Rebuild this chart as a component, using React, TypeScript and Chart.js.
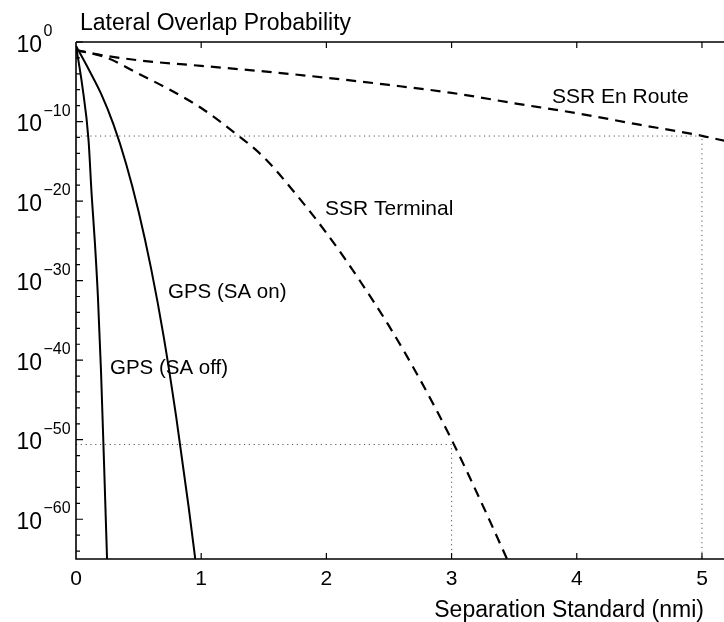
import React, { useEffect, useRef } from "react";
import { Chart, registerables } from "chart.js";

Chart.register(...registerables);

// ---- Data ----
const enRouteX = [0, 0.15, 0.5, 1, 1.5, 2, 2.5, 3, 3.5, 4, 4.5, 5, 5.2];
const enRouteY = [1e-1, 3.2e-2, 5.0e-3, 1e-3, 2.0e-4, 3.2e-5, 4.0e-6, 4.0e-7, 2.0e-8, 1.1e-9, 4.0e-11, 1.6e-12, 3.2e-13];

const terminalX = [0, 0.25, 0.5, 0.75, 1.0, 1.25, 1.5, 1.75, 2.0, 2.25, 2.5, 2.75, 3.0, 3.25, 3.5];
const terminalY = [1e-1, 1e-2, 1e-4, 1e-6, 5.0e-9, 6.3e-12, 3.2e-15, 1e-19, 1e-24, 2.5e-30, 2.0e-36, 3.2e-43, 1e-50, 5.0e-59, 1e-67];

const saOnX = [0, 0.1, 0.2, 0.3, 0.4, 0.5, 0.6, 0.7, 0.8, 0.9, 0.97];
const saOnY = [3.2e-1, 4.0e-4, 3.2e-7, 4.0e-11, 5.0e-16, 5.0e-22, 3.2e-29, 1e-37, 7.9e-48, 3.2e-59, 6.3e-68];

const saOffX = [0, 0.05, 0.1, 0.125, 0.15, 0.175, 0.2, 0.225, 0.25];
const saOffY = [3.2e-1, 3.2e-6, 5.0e-13, 6.3e-20, 1e-25, 1e-32, 3.2e-42, 3.2e-54, 1e-66];

const ref1X = [0, 5, 5];
const ref1Y = [1.5e-12, 1.5e-12, 1e-65];
const ref2X = [0, 3, 3];
const ref2Y = [2.5e-51, 2.5e-51, 1e-65];

const xTicks = [0, 1, 2, 3, 4, 5];
const xTickLabels = ["0", "1", "2", "3", "4", "5"];
const yMajorTicks = [1, 1e-10, 1e-20, 1e-30, 1e-40, 1e-50, 1e-60];
const yMajorExpLabels = ["0", "−10", "−20", "−30", "−40", "−50", "−60"];
const yMinorTicks = [
  1e-2, 1e-4, 1e-6, 1e-8, 1e-12, 1e-14, 1e-16, 1e-18, 1e-22, 1e-24, 1e-26, 1e-28,
  1e-32, 1e-34, 1e-36, 1e-38, 1e-42, 1e-44, 1e-46, 1e-48, 1e-52, 1e-54, 1e-56, 1e-58,
  1e-62, 1e-64,
];

const TITLE = "Lateral Overlap Probability";
const XLABEL = "Separation Standard (nmi)";
const curveLabels = [
  { text: "SSR En Route", x: 552, y: 103, size: 21 },
  { text: "SSR Terminal", x: 325, y: 215, size: 21 },
  { text: "GPS (SA on)", x: 168, y: 298, size: 20.5 },
  { text: "GPS (SA off)", x: 110, y: 374, size: 20.5 },
];

const FONT = "'Liberation Sans', Arial, Helvetica, sans-serif";

const pts = (xs: number[], ys: number[]) => xs.map((x, i) => ({ x, y: ys[i] }));

const axesPlugin = {
  id: "matlabAxes",
  afterDraw(chart: any) {
    const { ctx, chartArea: a, scales } = chart;
    const xs = scales.x;
    const ys = scales.y;
    ctx.save();
    ctx.strokeStyle = "#000";
    ctx.lineWidth = 1.6;
    ctx.beginPath();
    ctx.moveTo(a.left, a.top);
    ctx.lineTo(a.right, a.top);
    ctx.moveTo(a.left, a.top);
    ctx.lineTo(a.left, a.bottom);
    ctx.lineTo(a.right, a.bottom);
    ctx.stroke();

    ctx.lineWidth = 1.2;
    ctx.beginPath();
    xTicks.forEach((t) => {
      const px = xs.getPixelForValue(t);
      if (t !== 0) {
        ctx.moveTo(px, a.bottom);
        ctx.lineTo(px, a.bottom - 6);
        ctx.moveTo(px, a.top);
        ctx.lineTo(px, a.top + 6);
      }
    });
    yMajorTicks.forEach((t) => {
      const py = ys.getPixelForValue(t);
      ctx.moveTo(a.left, py);
      ctx.lineTo(a.left + 7, py);
    });
    yMinorTicks.forEach((t) => {
      const py = ys.getPixelForValue(t);
      ctx.moveTo(a.left, py);
      ctx.lineTo(a.left + 4, py);
    });
    ctx.stroke();

    ctx.fillStyle = "#000";
    // x tick labels
    ctx.font = `21px ${FONT}`;
    ctx.textAlign = "center";
    ctx.textBaseline = "alphabetic";
    xTicks.forEach((t, i) => {
      ctx.fillText(xTickLabels[i], xs.getPixelForValue(t), a.bottom + 26);
    });
    // y tick labels 10^e
    yMajorTicks.forEach((t, i) => {
      const py = ys.getPixelForValue(t);
      ctx.font = `23px ${FONT}`;
      ctx.textAlign = "right";
      ctx.fillText("10", 42, py + 9.5);
      ctx.font = `16px ${FONT}`;
      ctx.textAlign = "left";
      ctx.fillText(yMajorExpLabels[i], 43.5, py - 6);
    });
    // title & x label
    ctx.font = `23px ${FONT}`;
    ctx.textAlign = "left";
    ctx.fillText(TITLE, 80, 30);
    ctx.textAlign = "right";
    ctx.fillText(XLABEL, 704, 617);
    // curve labels
    ctx.textAlign = "left";
    curveLabels.forEach((l) => {
      ctx.font = `${l.size}px ${FONT}`;
      ctx.fillText(l.text, l.x, l.y);
    });
    ctx.restore();
  },
};

export default function App() {
  const ref = useRef<HTMLCanvasElement | null>(null);
  useEffect(() => {
    if (!ref.current) return;
    const dotted = {
      borderColor: "#555",
      borderWidth: 1,
      borderDash: [1.2, 3.6],
      pointRadius: 0,
      tension: 0,
    };
    const chart = new Chart(ref.current, {
      type: "line",
      data: {
        datasets: [
          { label: "ref1", data: pts(ref1X, ref1Y), ...dotted },
          { label: "ref2", data: pts(ref2X, ref2Y), ...dotted },
          {
            label: "SSR En Route",
            data: pts(enRouteX, enRouteY),
            borderColor: "#000",
            borderWidth: 2.2,
            borderDash: [10, 7],
            pointRadius: 0,
            cubicInterpolationMode: "monotone",
          },
          {
            label: "SSR Terminal",
            data: pts(terminalX, terminalY),
            borderColor: "#000",
            borderWidth: 2.2,
            borderDash: [10, 7],
            pointRadius: 0,
            cubicInterpolationMode: "monotone",
          },
          {
            label: "GPS (SA on)",
            data: pts(saOnX, saOnY),
            borderColor: "#000",
            borderWidth: 2,
            pointRadius: 0,
            cubicInterpolationMode: "monotone",
          },
          {
            label: "GPS (SA off)",
            data: pts(saOffX, saOffY),
            borderColor: "#000",
            borderWidth: 2,
            pointRadius: 0,
            cubicInterpolationMode: "monotone",
          },
        ],
      } as any,
      options: {
        responsive: false,
        animation: false,
        events: [],
        layout: { padding: { left: 76, top: 42, right: 0, bottom: 63 } },
        plugins: { legend: { display: false }, tooltip: { enabled: false }, title: { display: false } },
        scales: {
          x: { type: "linear", min: 0, max: 5.176, display: false },
          y: { type: "logarithmic", min: 1e-65, max: 1, display: false },
        },
      } as any,
      plugins: [axesPlugin],
    });
    return () => chart.destroy();
  }, []);
  return (
    <div style={{ position: "absolute", left: 0, top: 0, width: 724, height: 622, background: "#fff" }}>
      <canvas ref={ref} width={724} height={622} style={{ display: "block" }} />
    </div>
  );
}
